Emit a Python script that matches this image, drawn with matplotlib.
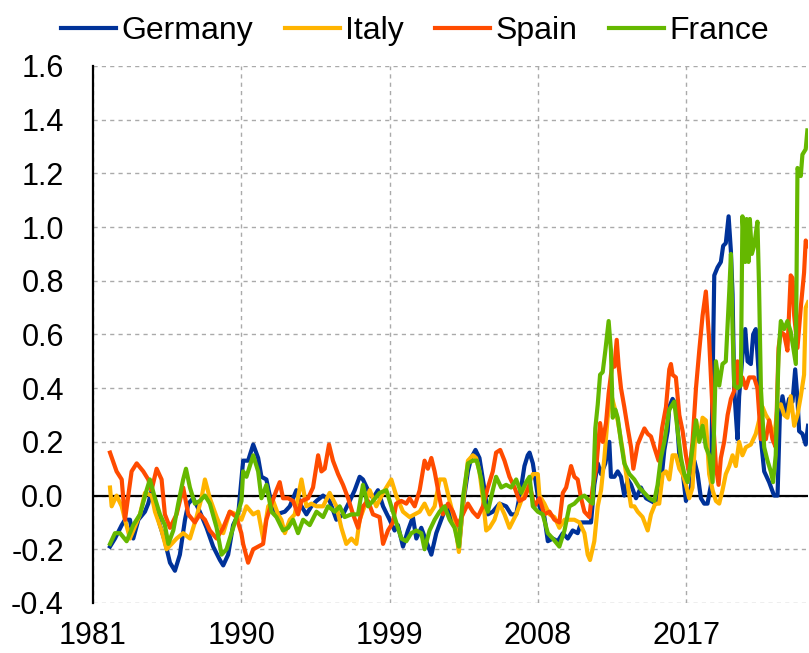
import matplotlib
matplotlib.use("Agg")
import matplotlib.pyplot as plt

# ---------------- data ----------------
germany_years = [1982.03,1982.33,1982.74,1982.94,1983.24,1983.44,1983.75,1984.15,1984.35,1984.56,1984.76,1985.06,1985.36,1985.67,1985.97,1986.27,1986.58,1986.78,1987.08,1987.48,1987.89,1988.29,1988.7,1988.9,1989.2,1989.5,1989.81,1990.11,
    1990.41,1990.72,1991.02,1991.22,1991.52,1991.83,1992.13,1992.64,1992.94,1993.34,1993.55,1993.95,1994.25,1994.56,1994.96,1995.36,1995.77,1996.17,1996.58,1996.88,1997.18,1997.38,1997.69,1997.99,1998.29,1998.6,1999.0,1999.3,
    1999.5,1999.81,2000.11,2000.41,2000.62,2000.92,2001.22,2001.53,2001.83,2002.13,2002.43,2002.74,2003.04,2003.2,2003.44,2003.75,2003.95,2004.21,2004.45,2004.76,2004.96,2005.26,2005.67,2006.07,2006.37,2006.68,2006.98,2007.18,2007.38,
    2007.49,2007.69,2007.89,2008.09,2008.39,2008.6,2008.9,2009.2,2009.51,2009.81,2010.11,2010.41,2010.62,2010.92,2011.22,2011.42,2011.63,2011.83,2012.09,2012.33,2012.43,2012.64,2012.84,2013.04,2013.24,2013.45,2013.65,2013.95,2014.25,2014.56,2014.86,2015.16,2015.46,2015.67,2015.87,
    2015.97,2016.17,2016.37,2016.58,2016.78,2016.98,2017.28,2017.49,2017.69,2017.89,2018.09,2018.29,2018.5,2018.7,2018.9,2019.1,2019.24,2019.4,2019.57,2019.71,2019.81,2019.91,2020.01,2020.11,2020.21,2020.41,2020.58,2020.72,2020.92,2021.06,2021.22,2021.38,2021.53,2021.73,2022.03,2022.33,2022.54,2022.68,2022.84,2023.04,2023.24,2023.45,2023.61,2023.75,2023.85,2024.05,2024.25,2024.39]
germany_values = [-0.19,-0.16,-0.11,-0.09,-0.09,-0.16,-0.09,-0.06,-0.03,0.02,-0.04,-0.11,-0.17,-0.25,-0.28,-0.22,-0.09,-0.03,-0.01,-0.06,-0.12,-0.19,-0.24,-0.26,-0.22,-0.11,-0.07,0.13,
    0.13,0.19,0.14,0.07,0.06,-0.03,-0.07,-0.06,-0.04,0.02,-0.03,-0.07,-0.04,-0.02,0.0,-0.02,-0.09,-0.07,-0.02,0.02,0.07,0.06,0.02,-0.01,0.02,-0.04,-0.09,-0.13,
    -0.11,-0.19,-0.13,-0.08,-0.16,-0.12,-0.17,-0.22,-0.14,-0.09,-0.04,-0.07,-0.12,-0.20,-0.04,0.09,0.14,0.17,0.14,0.02,-0.07,-0.06,-0.03,-0.04,-0.07,-0.07,0.03,0.11,0.15,
    0.16,0.12,0.04,-0.04,-0.08,-0.17,-0.16,-0.17,-0.14,-0.16,-0.13,-0.14,-0.10,-0.10,-0.10,0.04,0.12,0.08,0.12,0.20,0.07,0.07,0.09,0.07,0.0,0.06,0.04,-0.01,0.03,-0.01,-0.02,-0.03,0.04,0.17,0.24,
    0.33,0.36,0.34,0.15,0.09,-0.02,0.03,0.13,0.08,-0.01,-0.03,-0.03,0.04,0.82,0.85,0.87,0.93,0.94,1.04,0.91,0.75,0.40,0.30,0.21,0.37,0.52,0.62,0.50,0.49,0.60,0.62,0.47,0.21,0.09,0.05,0.0,0.0,0.30,0.37,0.30,0.36,0.35,0.47,0.36,0.24,0.23,0.19,0.26]

italy_years = [1982.03,1982.13,1982.43,1982.74,1982.94,1983.24,1983.85,1984.15,1984.56,1984.76,1985.16,1985.46,1985.77,1986.07,1986.47,1986.88,1987.28,1987.58,1987.79,1988.09,1988.5,1988.9,1989.3,1989.71,
    1990.01,1990.31,1990.72,1991.02,1991.32,1991.63,1991.93,1992.23,1992.43,1992.64,1992.94,1993.24,1993.65,1993.95,1994.25,1994.56,1994.96,1995.36,1995.77,1996.07,1996.37,1996.68,1996.98,1997.18,1997.48,1997.79,1998.19,1998.6,1999.1,
    1999.4,1999.81,2000.21,2000.52,2000.82,2001.12,2001.42,2001.73,2002.03,2002.33,2002.64,2002.94,2003.2,2003.44,2003.75,2004.05,2004.25,2004.45,2004.66,2004.86,2005.06,2005.36,2005.67,2005.97,2006.27,2006.68,2006.98,2007.28,2007.69,2007.99,
    2008.09,2008.39,2008.7,2009.0,2009.3,2009.61,2009.91,2010.21,2010.52,2010.82,2011.02,2011.16,2011.42,2011.63,2011.83,2012.03,2012.23,2012.43,2012.64,2012.84,2013.14,2013.45,2013.65,2013.85,2014.05,2014.35,2014.66,2014.86,2015.12,2015.36,
    2015.57,2015.77,2015.97,2016.17,2016.37,2016.58,2016.78,2016.98,2017.18,2017.38,2017.59,2017.79,2017.99,2018.19,2018.39,2018.6,2018.8,2019.0,2019.2,2019.4,2019.61,2019.81,2020.01,2020.21,2020.41,2020.62,2020.92,2021.22,2021.42,2021.63,2021.83,2022.03,2022.33,2022.54,2022.74,2022.94,2023.14,2023.34,2023.55,2023.75,2023.95,2024.15,2024.25,2024.39]
italy_values = [0.03,-0.04,0.0,-0.04,-0.09,-0.16,-0.07,0.01,0.0,-0.06,-0.13,-0.20,-0.18,-0.16,-0.14,-0.16,-0.08,-0.01,0.06,-0.01,-0.08,-0.14,-0.06,-0.07,
    -0.09,-0.04,-0.07,-0.06,-0.16,-0.04,-0.02,-0.07,-0.09,-0.14,-0.09,-0.07,0.06,-0.04,-0.03,-0.04,-0.04,0.01,-0.04,-0.12,-0.18,-0.16,-0.18,-0.09,-0.04,0.02,-0.04,0.01,0.06,
    0.0,-0.06,-0.08,-0.07,-0.06,-0.03,-0.07,-0.04,0.06,0.06,-0.02,-0.09,-0.21,-0.04,0.13,0.15,0.14,0.09,-0.01,-0.13,-0.12,-0.09,-0.03,-0.07,-0.12,-0.07,-0.02,0.02,0.08,0.08,
    0.0,-0.03,-0.07,-0.08,-0.12,-0.09,-0.09,-0.09,-0.10,-0.14,-0.22,-0.24,-0.17,-0.04,0.02,0.14,0.29,0.38,0.33,0.28,0.17,0.04,-0.04,-0.04,-0.06,-0.08,-0.13,-0.07,-0.03,-0.03,
    0.08,0.09,0.06,0.15,0.15,0.10,0.08,0.04,-0.01,0.03,0.28,0.21,0.29,0.28,0.08,0.02,-0.02,-0.03,0.02,0.08,0.11,0.15,0.11,0.20,0.15,0.18,0.19,0.23,0.28,0.33,0.30,0.28,0.21,0.33,0.34,0.30,0.29,0.37,0.26,0.30,0.37,0.45,0.70,0.72]

spain_years = [1982.03,1982.43,1982.74,1982.94,1983.34,1983.65,1984.05,1984.35,1984.55,1984.86,1985.16,1985.36,1985.67,1986.07,1986.47,1986.78,1987.18,1987.48,1987.79,1988.09,1988.5,1988.9,1989.3,1989.7,1990.0,
    1990.11,1990.41,1990.72,1991.02,1991.32,1991.52,1991.83,1992.13,1992.33,1992.53,1992.84,1993.14,1993.44,1993.65,1994.05,1994.35,1994.66,1994.86,1995.06,1995.32,1995.56,1995.87,1996.17,1996.48,1996.78,1997.08,1997.38,1997.69,1997.99,1998.39,1998.6,1998.9,1999.2,
    1999.4,1999.71,2000.01,2000.21,2000.52,2000.82,2001.12,2001.32,2001.53,2001.73,2002.03,2002.23,2002.54,2002.84,2003.14,2003.44,2003.75,2004.05,2004.35,2004.66,2004.96,2005.26,2005.46,2005.71,2005.97,2006.27,2006.58,2006.88,2007.18,
    2007.49,2007.79,2008.09,2008.39,2008.7,2009.0,2009.3,2009.51,2009.71,2010.01,2010.21,2010.41,2010.62,2010.82,2011.12,2011.32,2011.53,2011.77,2011.93,2012.13,2012.29,2012.49,2012.64,2012.78,2012.9,2013.04,2013.24,2013.45,2013.65,2013.79,2014.05,2014.25,2014.46,2014.66,2014.86,2015.06,2015.32,2015.53,2015.77,2015.97,
    2016.07,2016.17,2016.37,2016.58,2016.78,2016.98,2017.18,2017.38,2017.59,2017.79,2017.99,2018.19,2018.39,2018.6,2018.8,2018.96,2019.1,2019.3,2019.51,2019.71,2019.91,2020.11,2020.21,2020.41,2020.62,2020.82,2021.12,2021.32,2021.53,2021.83,2022.03,2022.23,2022.43,2022.6,2022.74,2022.94,2023.14,2023.34,2023.45,2023.55,2023.75,2023.95,2024.15,2024.25,2024.39]
spain_values = [0.16,0.09,0.06,-0.09,0.09,0.12,0.09,0.06,0.02,0.10,0.06,-0.07,-0.12,-0.07,0.03,-0.07,-0.10,-0.07,-0.09,-0.13,-0.16,-0.12,-0.06,-0.08,-0.14,
    -0.18,-0.25,-0.20,-0.19,-0.18,-0.09,-0.03,0.02,0.05,-0.01,-0.01,-0.02,-0.07,-0.02,-0.01,0.03,0.15,0.09,0.10,0.19,0.13,0.08,0.04,-0.01,-0.07,-0.12,-0.04,-0.02,-0.07,-0.08,-0.18,-0.13,-0.10,
    -0.03,-0.02,-0.03,-0.01,-0.04,0.02,0.13,0.10,0.14,0.09,-0.01,-0.07,-0.03,-0.06,-0.11,-0.07,-0.03,-0.06,-0.08,-0.04,0.03,0.09,0.16,0.17,0.13,0.07,0.03,-0.02,-0.01,
    0.04,-0.04,-0.01,-0.07,-0.06,-0.09,-0.10,0.01,0.03,0.11,0.07,0.06,-0.01,-0.06,-0.08,0.03,0.10,0.27,0.20,0.27,0.38,0.48,0.48,0.58,0.48,0.40,0.33,0.25,0.18,0.10,0.19,0.22,0.25,0.23,0.22,0.18,0.13,0.25,0.33,0.47,
    0.49,0.45,0.44,0.30,0.24,0.15,0.08,0.20,0.40,0.54,0.67,0.76,0.58,0.31,0.11,0.04,0.14,0.20,0.30,0.36,0.39,0.50,0.41,0.44,0.40,0.44,0.44,0.40,0.21,0.21,0.28,0.21,0.18,0.55,0.61,0.60,0.54,0.82,0.81,0.67,0.55,0.70,0.83,0.95,0.93]

france_years = [1982.03,1982.33,1982.64,1983.04,1983.44,1983.85,1984.25,1984.45,1984.76,1985.06,1985.36,1985.57,1985.87,1986.17,1986.47,1986.64,1986.88,1987.18,1987.48,1987.79,1988.09,1988.5,1988.8,1989.1,1989.4,1989.71,1990.01,1990.11,
    1990.31,1990.72,1991.02,1991.22,1991.52,1991.83,1992.13,1992.53,1992.84,1993.14,1993.44,1993.75,1994.15,1994.56,1994.96,1995.26,1995.67,1995.97,1996.27,1996.68,1997.08,1997.38,1997.69,1997.99,1998.39,1998.8,1999.1,1999.4,
    1999.71,2000.01,2000.31,2000.62,2000.92,2001.12,2001.42,2001.73,2002.03,2002.33,2002.64,2002.94,2003.2,2003.44,2003.75,2004.05,2004.29,2004.56,2004.76,2004.96,2005.26,2005.46,2005.77,2006.07,2006.37,2006.68,2006.98,2007.28,
    2007.49,2007.69,2007.99,2008.29,2008.6,2008.9,2009.3,2009.61,2009.91,2010.21,2010.52,2010.82,2011.12,2011.32,2011.48,2011.63,2011.77,2011.93,2012.09,2012.29,2012.43,2012.54,2012.7,2012.84,2013.04,2013.24,2013.55,2013.85,2014.15,2014.46,2014.76,2015.06,2015.26,2015.46,2015.67,
    2015.97,2016.27,2016.48,2016.68,2016.88,2017.08,2017.28,2017.59,2017.79,2017.99,2018.19,2018.39,2018.6,2018.8,2019.0,2019.2,2019.4,2019.61,2019.71,2019.81,2019.91,2020.11,2020.31,2020.41,2020.58,2020.66,2020.78,2020.86,2020.98,2021.12,2021.32,2021.42,2021.53,2021.73,2021.93,2022.13,2022.27,2022.43,2022.6,2022.74,2022.94,2023.14,2023.34,2023.65,2023.75,2023.95,2024.05,2024.25,2024.35]
france_values = [-0.18,-0.14,-0.14,-0.17,-0.11,-0.07,0.02,0.06,-0.01,-0.07,-0.11,-0.18,-0.13,-0.03,0.06,0.10,0.03,-0.03,-0.02,0.0,-0.03,-0.12,-0.22,-0.20,-0.14,-0.08,-0.02,0.09,
    0.07,0.15,0.09,-0.01,0.04,-0.06,-0.08,-0.13,-0.12,-0.09,-0.14,-0.09,-0.11,-0.06,-0.08,-0.04,-0.06,-0.04,-0.08,-0.07,-0.07,0.04,-0.04,-0.02,0.01,0.02,-0.04,-0.10,
    -0.16,-0.17,-0.14,-0.13,-0.14,-0.20,-0.13,-0.09,-0.06,-0.04,-0.09,-0.12,-0.19,-0.01,0.12,0.13,0.13,0.06,-0.03,-0.06,0.02,0.07,0.03,0.04,0.03,0.06,0.01,0.05,
    0.07,-0.04,-0.06,-0.07,-0.14,-0.16,-0.19,-0.13,-0.04,-0.03,-0.01,0.0,-0.02,-0.03,0.25,0.34,0.45,0.46,0.54,0.65,0.54,0.29,0.32,0.29,0.20,0.12,0.08,0.06,0.03,0.01,-0.01,-0.02,0.04,0.14,0.20,
    0.32,0.35,0.24,0.14,0.08,0.05,0.13,0.28,0.20,0.26,0.18,0.15,0.05,0.50,0.41,0.49,0.50,0.76,0.90,0.62,0.41,0.40,0.41,1.04,0.87,1.03,0.87,1.03,0.90,0.93,1.02,0.77,0.40,0.18,0.13,0.09,0.05,0.15,0.52,0.65,0.62,0.65,0.61,0.49,1.22,1.19,1.27,1.29,1.36]

series_names = ["Germany", "Italy", "Spain", "France"]
series_colors = ["#003299", "#FFB400", "#FF4B00", "#65B800"]
x_ticks = [1981, 1990, 1999, 2008, 2017]
y_ticks = [-0.4, -0.2, 0.0, 0.2, 0.4, 0.6, 0.8, 1.0, 1.2, 1.4, 1.6]

# ---------------- plot ----------------
plt.rcParams['font.family'] = ['Liberation Sans', 'DejaVu Sans']
fig = plt.figure(figsize=(8.09, 6.53), dpi=100)
ax = fig.add_axes([0.115, 0.0766, 0.884, 0.8224])

data = [(germany_years, germany_values), (italy_years, italy_values),
        (spain_years, spain_values), (france_years, france_values)]
for (xs, ys), name, col in zip(data, series_names, series_colors):
    ax.plot(xs, ys, color=col, lw=3.0, label=name, solid_joinstyle='round')

ax.axhline(0, color='black', lw=1.6, zorder=1)
ax.set_xlim(1981, 2024.4)
ax.set_ylim(-0.4, 1.6)
ax.set_xticks(x_ticks)
ax.set_xticklabels([str(t) for t in x_ticks])
ax.set_yticks(y_ticks)
ax.set_yticklabels([f"{t:.1f}" for t in y_ticks])
ax.tick_params(axis='both', length=0, labelsize=22)
ax.tick_params(axis='x', pad=13)
ax.tick_params(axis='y', pad=21)
ax.grid(True, color='#aaaaaa', ls=(0, (3, 3)), lw=1.0)
ax.set_axisbelow(True)
for s in ['top', 'right', 'bottom']:
    ax.spines[s].set_visible(False)
ax.spines['left'].set_linewidth(1.6)
ax.spines['left'].set_color('black')

fig.legend(loc='upper center', bbox_to_anchor=(0.513, 1.02), ncol=4, frameon=False,
           fontsize=23, handlelength=1.72, handletextpad=0.16, columnspacing=1.0)

fig.savefig("out.png", dpi=100)
